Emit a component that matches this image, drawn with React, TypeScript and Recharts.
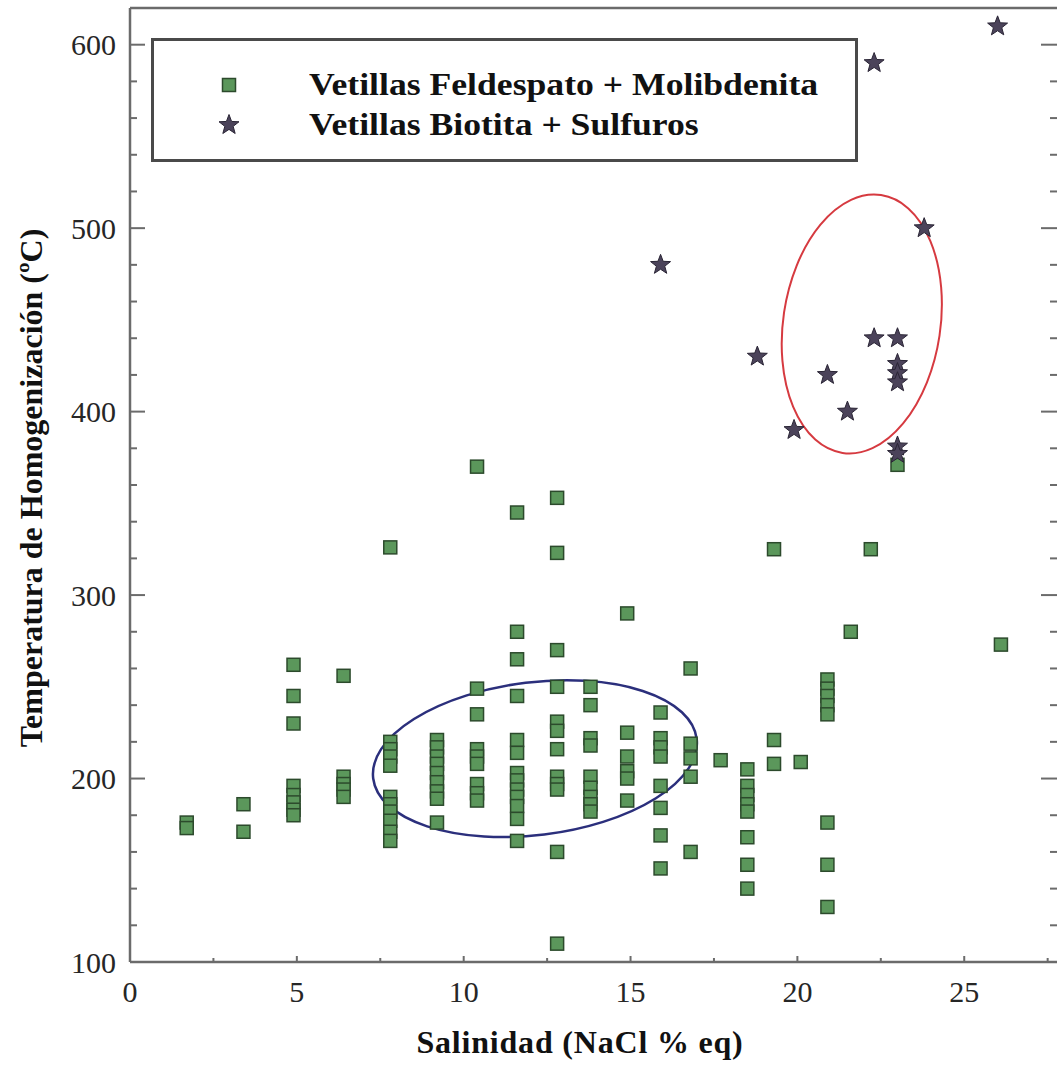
import {
  ScatterChart,
  Scatter,
  XAxis,
  YAxis,
  Legend,
  ReferenceArea,
  ReferenceLine,
  Label,
} from 'recharts';

// Salinidad (NaCl % eq) columns and the Th values read at each column
const feldSalinity = [1.7, 3.4, 4.9, 6.4, 7.8, 9.2, 10.4, 11.6, 12.8, 13.8, 14.9, 15.9, 16.8, 17.7, 18.5, 19.3, 20.1, 20.9, 21.6, 22.2, 23.0, 26.1];
const feldTemps = [
  [176, 173],
  [186, 171],
  [262, 245, 230, 196, 191, 187, 183, 180],
  [256, 201, 197, 194, 190],
  [326, 220, 216, 212, 207, 190, 186, 182, 177, 171, 166],
  [221, 217, 212, 208, 203, 198, 193, 189, 176],
  [370, 249, 235, 216, 212, 208, 197, 192, 188],
  [345, 280, 265, 245, 221, 214, 203, 199, 194, 190, 185, 178, 166],
  [353, 323, 270, 250, 231, 226, 216, 201, 197, 194, 160, 110],
  [250, 240, 222, 218, 201, 195, 190, 186, 182],
  [290, 225, 212, 204, 200, 188],
  [236, 222, 217, 212, 196, 184, 169, 151],
  [260, 219, 211, 201, 160],
  [210],
  [205, 196, 191, 186, 182, 168, 153, 140],
  [325, 221, 208],
  [209],
  [254, 249, 245, 240, 235, 176, 153, 130],
  [280],
  [325],
  [371],
  [273],
];

const biotitaSalinity = [26.0, 22.3, 15.9, 23.8, 18.8, 20.9, 22.3, 23.0, 23.0, 23.0, 23.0, 21.5, 19.9, 23.0, 23.0];
const biotitaTemp = [610, 590, 480, 500, 430, 420, 440, 440, 426, 421, 416, 400, 390, 381, 377];

const xTicks = [0, 2.5, 5, 7.5, 10, 12.5, 15, 17.5, 20, 22.5, 25, 27.5];
const yTicks = [100, 120, 140, 160, 180, 200, 220, 240, 260, 280, 300, 320, 340, 360, 380, 400, 420, 440, 460, 480, 500, 520, 540, 560, 580, 600, 620];

const LEGEND_LABELS = ['Vetillas Feldespato + Molibdenita', 'Vetillas Biotita + Sulfuros'];

const feldData = feldSalinity.flatMap((x, i) => feldTemps[i].map((y) => ({ x, y })));
const biotitaData = biotitaSalinity.map((x, i) => ({ x, y: biotitaTemp[i] }));

const FONT = '"Liberation Serif", "Times New Roman", serif';
const AXIS = '#6b6b6b';
const SQ_FILL = '#5b975b';
const SQ_STROKE = '#2c4a2c';
const STAR_FILL = '#4b435a';
const STAR_STROKE = '#2a2535';

function starPoints(cx: number, cy: number, R: number, r: number) {
  const pts: string[] = [];
  for (let i = 0; i < 10; i++) {
    const rad = i % 2 === 0 ? R : r;
    const a = -Math.PI / 2 + (i * Math.PI) / 5;
    pts.push(`${cx + rad * Math.cos(a)},${cy + rad * Math.sin(a)}`);
  }
  return pts.join(' ');
}

function SquareShape(props: any) {
  const { cx, cy } = props;
  return <rect x={cx - 6.5} y={cy - 6.5} width={13} height={13} fill={SQ_FILL} stroke={SQ_STROKE} strokeWidth={1.5} />;
}

function StarShape(props: any) {
  const { cx, cy } = props;
  return <polygon points={starPoints(cx, cy, 10.5, 4.4)} fill={STAR_FILL} stroke={STAR_STROKE} strokeWidth={1} />;
}

// ellipse fitted inside the ReferenceArea box, tilted by `tilt` degrees
function ellipseShape(tilt: number, color: string, sw: number) {
  return (props: any) => {
    const { x, y, width, height } = props;
    const W = width / 2;
    const H = height / 2;
    const t = (tilt * Math.PI) / 180;
    const c2 = Math.cos(t) ** 2;
    const s2 = Math.sin(t) ** 2;
    const k = Math.cos(2 * t);
    const rx = Math.sqrt((W * W * c2 - H * H * s2) / k);
    const ry = Math.sqrt((H * H * c2 - W * W * s2) / k);
    const cx = x + W;
    const cy = y + H;
    return (
      <ellipse cx={cx} cy={cy} rx={rx} ry={ry} transform={`rotate(${tilt} ${cx} ${cy})`}
        fill="none" stroke={color} strokeWidth={sw} />
    );
  };
}

function LeftTick(props: any) {
  const { x, y, payload } = props;
  const major = payload.value % 100 === 0;
  return (
    <g>
      <line x1={x} x2={x + (major ? 15 : 7)} y1={y} y2={y} stroke={AXIS} strokeWidth={2} />
      {major && (
        <text x={x - 14} y={y} textAnchor="end" dominantBaseline="central"
          style={{ fontFamily: FONT, fontSize: 30, fill: '#262626' }}>
          {payload.value}
        </text>
      )}
    </g>
  );
}

function RightTick(props: any) {
  const { x, y, payload } = props;
  const major = payload.value % 100 === 0;
  return <line x1={x} x2={x - (major ? 20 : 11)} y1={y} y2={y} stroke={AXIS} strokeWidth={2} />;
}

function BottomTick(props: any) {
  const { x, y, payload } = props;
  const major = payload.value % 5 === 0;
  return (
    <g>
      <line x1={x} x2={x} y1={y} y2={y - (major ? 6 : 4)} stroke={AXIS} strokeWidth={2} />
      {major && (
        <text x={x} y={y + 40} textAnchor="middle"
          style={{ fontFamily: FONT, fontSize: 30, fill: '#262626' }}>
          {payload.value}
        </text>
      )}
    </g>
  );
}

function LegendBox() {
  return (
    <div style={{
      width: 701, height: 118, border: '3px solid #4a4a4a', background: '#fff',
      boxSizing: 'content-box', fontFamily: FONT, fontWeight: 'bold', fontSize: 31, color: '#111',
    }}>
      {LEGEND_LABELS.map((label, i) => (
        <div key={label} style={{ position: 'absolute', left: 0, top: i === 0 ? 27 : 67, height: 40, display: 'flex', alignItems: 'center' }}>
          <svg width={150} height={40} style={{ display: 'block' }}>
            {i === 0 ? <SquareShape cx={78} cy={20} /> : <StarShape cx={78} cy={20} />}
          </svg>
          <span style={{
            marginLeft: 8, whiteSpace: 'nowrap', display: 'inline-block',
            transform: 'scaleX(1.15)', transformOrigin: 'left center',
          }}>
            {label}
          </span>
        </div>
      ))}
    </div>
  );
}

export default function App() {
  return (
    <div style={{ position: 'absolute', left: 0, top: 0, width: 1057, height: 1067, overflow: 'hidden', background: '#fff' }}>
      <ScatterChart width={1073} height={1067} margin={{ top: 8, right: 0, bottom: 0, left: 0 }}>
        <XAxis
          xAxisId="x"
          dataKey="x"
          type="number"
          domain={[0, 27.9]}
          ticks={xTicks}
          interval={0}
          allowDataOverflow
          tickSize={0}
          tickMargin={0}
          tickLine={false}
          axisLine={{ stroke: AXIS, strokeWidth: 2.5 }}
          tick={<BottomTick />}
          height={105}
        >
          <Label
            content={(p: any) => {
              const vb = p.viewBox;
              return (
                <text x={vb.x + 450} y={vb.y + 91} textAnchor="middle"
                  style={{ fontFamily: FONT, fontSize: 32, fontWeight: 'bold', fill: '#111', letterSpacing: 0.8 }}>
                  Salinidad (NaCl % eq)
                </text>
              );
            }}
          />
        </XAxis>
        <YAxis
          yAxisId="left"
          dataKey="y"
          type="number"
          domain={[100, 620]}
          ticks={yTicks}
          interval={0}
          allowDataOverflow
          tickSize={0}
          tickMargin={0}
          tickLine={false}
          axisLine={{ stroke: AXIS, strokeWidth: 2.5 }}
          tick={<LeftTick />}
          width={130}
        >
          <Label
            content={(p: any) => {
              const vb = p.viewBox;
              const cx = 31;
              const cy = vb.y + vb.height / 2 + 3;
              return (
                <text x={cx} y={cy} textAnchor="middle" dominantBaseline="central"
                  transform={`rotate(-90 ${cx} ${cy})`}
                  style={{ fontFamily: FONT, fontSize: 32, fontWeight: 'bold', fill: '#111' }}>
                  Temperatura de Homogenización (ºC)
                </text>
              );
            }}
          />
        </YAxis>
        <YAxis
          yAxisId="right"
          orientation="right"
          type="number"
          domain={[100, 620]}
          ticks={yTicks}
          interval={0}
          allowDataOverflow
          tickSize={0}
          tickMargin={0}
          tickLine={false}
          axisLine={{ stroke: AXIS, strokeWidth: 2.5 }}
          tick={<RightTick />}
          width={12}
        />
        <ReferenceLine xAxisId="x" yAxisId="left" y={620} stroke={AXIS} strokeWidth={2.5} />
        <ReferenceArea xAxisId="x" yAxisId="left" x1={7.28} x2={16.99} y1={168.1} y2={253.6}
          shape={ellipseShape(-7, '#2b2f7c', 2.5)} />
        <ReferenceArea xAxisId="x" yAxisId="left" x1={19.53} x2={24.33} y1={377.2} y2={518.3}
          shape={ellipseShape(8.5, '#d63a40', 2)} />
        <Scatter name={LEGEND_LABELS[0]} data={feldData} xAxisId="x" yAxisId="left"
          shape={<SquareShape />} isAnimationActive={false} />
        <Scatter name={LEGEND_LABELS[1]} data={biotitaData} xAxisId="x" yAxisId="left"
          shape={<StarShape />} isAnimationActive={false} />
        <Legend
          layout="horizontal"
          verticalAlign="middle"
          align="center"
          content={() => <LegendBox />}
          wrapperStyle={{ left: 151, top: 38, width: 707, height: 124 }}
        />
      </ScatterChart>
    </div>
  );
}
